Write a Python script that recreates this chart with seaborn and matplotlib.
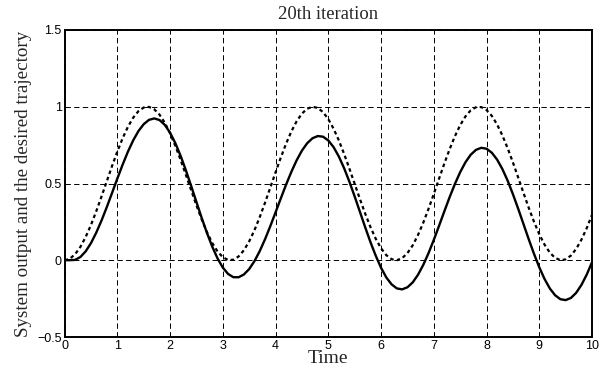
import matplotlib
matplotlib.use("Agg")
import matplotlib.pyplot as plt
import seaborn as sns
import pandas as pd

# time samples (step 0.1)
time = [round(i * 0.1, 1) for i in range(101)]

# desired trajectory (dashed)
desired = [
    0.0000, 0.0100, 0.0395, 0.0873, 0.1516, 0.2298, 0.3188, 0.4150, 0.5146, 0.6136,
    0.7081, 0.7943, 0.8687, 0.9284, 0.9711, 0.9950, 0.9991, 0.9834, 0.9484, 0.8955,
    0.8268, 0.7451, 0.6537, 0.5561, 0.4563, 0.3582, 0.2657, 0.1827, 0.1122, 0.0572,
    0.0199, 0.0017, 0.0034, 0.0249, 0.0653, 0.1231, 0.1958, 0.2807, 0.3744, 0.4731,
    0.5728, 0.6696, 0.7597, 0.8394, 0.9055, 0.9555, 0.9875, 0.9998, 0.9924, 0.9653,
    0.9195, 0.8571, 0.7806, 0.6927, 0.5972, 0.4977, 0.3985, 0.3033, 0.2159, 0.1398,
    0.0781, 0.0332, 0.0069, 0.0003, 0.0136, 0.0463, 0.0970, 0.1639, 0.2441, 0.3346,
    0.4316, 0.5314, 0.6300, 0.7232, 0.8076, 0.8798, 0.9368, 0.9765, 0.9970, 0.9978,
    0.9789, 0.9407, 0.8849, 0.8140, 0.7303, 0.6376, 0.5393, 0.4396, 0.3421, 0.2510,
    0.1698, 0.1018, 0.0497, 0.0155, 0.0006, 0.0057, 0.0304, 0.0739, 0.1343, 0.2093,
    0.2959,
]

# system output (solid)
output = [
    0.0000, 0.0005, 0.0024, 0.0212, 0.0581, 0.1115, 0.1796, 0.2585, 0.3461, 0.4386,
    0.5320, 0.6224, 0.7066, 0.7804, 0.8413, 0.8864, 0.9145, 0.9240, 0.9134, 0.8820,
    0.8311, 0.7627, 0.6800, 0.5856, 0.4841, 0.3793, 0.2755, 0.1771, 0.0885, 0.0121,
    -0.0478, -0.0892, -0.1104, -0.1107, -0.0926, -0.0572, -0.0057, 0.0597, 0.1365, 0.2217,
    0.3119, 0.4034, 0.4930, 0.5763, 0.6512, 0.7142, 0.7625, 0.7947, 0.8092, 0.8050,
    0.7806, 0.7370, 0.6759, 0.5996, 0.5118, 0.4156, 0.3151, 0.2144, 0.1176, 0.0290,
    -0.0489, -0.1121, -0.1571, -0.1835, -0.1896, -0.1762, -0.1443, -0.0951, -0.0307, 0.0460,
    0.1323, 0.2245, 0.3185, 0.4107, 0.4966, 0.5735, 0.6381, 0.6874, 0.7192, 0.7326,
    0.7266, 0.7007, 0.6561, 0.5946, 0.5189, 0.4310, 0.3359, 0.2365, 0.1372, 0.0420,
    -0.0457, -0.1218, -0.1836, -0.2278, -0.2536, -0.2596, -0.2456, -0.2120, -0.1605, -0.0932,
    -0.0130,
]

x_ticks = [0, 1, 2, 3, 4, 5, 6, 7, 8, 9, 10]
y_ticks = [-0.5, 0, 0.5, 1, 1.5]
y_tick_labels = ["\u22120.5", "0", "0.5", "1", "1.5"]

title = "20th iteration"
x_label = "Time"
y_label = "System output and the desired trajectory"

sns.set_theme(style="white")
plt.rcParams["font.family"] = ["Liberation Sans", "DejaVu Sans"]

df = pd.DataFrame({"t": time, "desired": desired, "output": output})

fig = plt.figure(figsize=(6.07, 3.75), dpi=100)
ax = fig.add_axes([0.1064, 0.1013, 0.8689, 0.8187])

sns.lineplot(data=df, x="t", y="desired", ax=ax, color="black",
             linewidth=1.6, linestyle=(0, (1.6, 1.4)))
sns.lineplot(data=df, x="t", y="output", ax=ax, color="black",
             linewidth=1.7, linestyle="-")

ax.set_xlim(0, 10)
ax.set_ylim(-0.5, 1.5)
ax.set_xticks(x_ticks)
ax.set_xticklabels([str(v) for v in x_ticks])
ax.set_yticks(y_ticks)
ax.set_yticklabels(y_tick_labels)
ax.tick_params(axis="both", labelsize=9, length=0, pad=2, colors="black")

ax.grid(True, color="black", linewidth=0.7, linestyle=(0, (5.5, 3.4)))
for s in ax.spines.values():
    s.set_visible(True)
    s.set_color("black")
    s.set_linewidth(1.4)

serif = ["Liberation Serif", "DejaVu Serif"]
ax.set_title(title, family=serif, fontsize=13.4, pad=8)
ax.set_xlabel(x_label, family=serif, fontsize=14, labelpad=-1)
ax.set_ylabel(y_label, family=serif, fontsize=13.7, labelpad=4)

fig.savefig("out.png", dpi=100)
